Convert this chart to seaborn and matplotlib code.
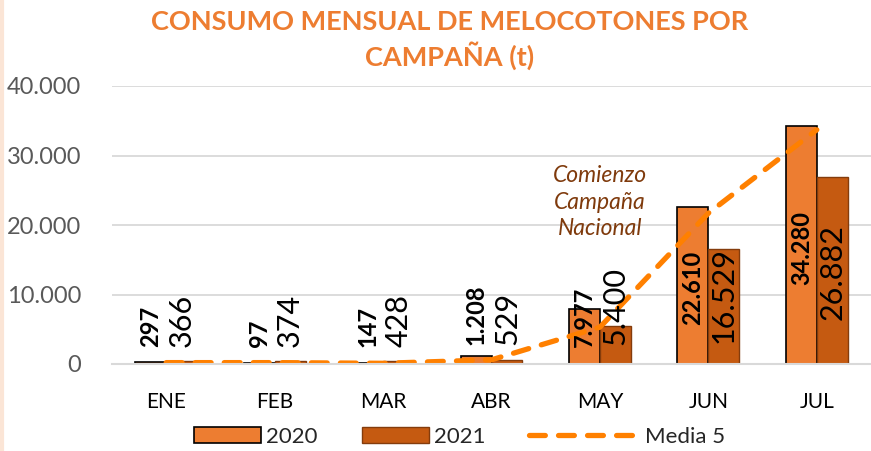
import numpy as np
import pandas as pd
import seaborn as sns
import matplotlib.pyplot as plt
from matplotlib.ticker import FuncFormatter
from matplotlib.patches import Patch
from matplotlib.lines import Line2D

# datos (t) por mes y campaña
meses = ["ENE", "FEB", "MAR", "ABR", "MAY", "JUN", "JUL"]
t_2020 = [297, 97, 147, 1208, 7977, 22610, 34280]
t_2021 = [366, 374, 428, 529, 5400, 16529, 26882]
media_5 = [200, 200, 100, 600, 5300, 21700, 33700]

# base de las etiquetas (en t), colocadas a mano como en el original
base_lab_2020 = [2450, 2450, 2450, 2730, 2450, 5600, 11370]
base_lab_2021 = [2450, 2450, 2450, 2730, 2730, 3020, 6330]

c2020, c2021, c_media = "#ED7D31", "#C55A11", "#FF8000"
borde_2021 = "#843C0C"

sns.set_theme(style="white")
plt.rcParams['font.family'] = ['Lato', 'DejaVu Sans']

df = pd.DataFrame({
    "Mes": meses * 2,
    "Año": ["2020"] * len(meses) + ["2021"] * len(meses),
    "t": t_2020 + t_2021,
})

def miles(v):
    return f"{int(v):,}".replace(",", ".")

fig = plt.figure(figsize=(8.71, 4.51), dpi=100)
ax = fig.add_axes([112 / 871, 87 / 451, (871 - 112) / 871, (364 - 86) / 451])

sns.barplot(data=df, x="Mes", y="t", hue="Año",
            palette=[c2020, c2021], width=0.57,
            saturation=1, legend=False, ax=ax)

# bordes distintos por serie
for patch in ax.containers[0]:
    patch.set_edgecolor("black")
    patch.set_linewidth(1.2)
for patch in ax.containers[1]:
    patch.set_edgecolor(borde_2021)
    patch.set_linewidth(1.0)

sns.lineplot(x=np.arange(len(meses)), y=media_5, ax=ax, color=c_media,
             linewidth=3.8, legend=False)
linea = ax.lines[-1]
linea.set_dashes([3.0, 2.5])
linea.set_dash_capstyle("round")

# etiquetas de datos verticales
for patch, v, b in zip(ax.containers[0], t_2020, base_lab_2020):
    cx = patch.get_x() + patch.get_width() / 2
    ax.text(cx, b, miles(v), rotation=90, ha="center", va="bottom",
            fontsize=17, fontweight="bold", color="black")
for patch, v, b in zip(ax.containers[1], t_2021, base_lab_2021):
    cx = patch.get_x() + patch.get_width() / 2
    ax.text(cx, b, miles(v), rotation=90, ha="center", va="bottom",
            fontsize=22, color="black")

ax.text(4, 23300, "Comienzo\nCampaña\nNacional", ha="center", va="center",
        fontsize=16.5, style="italic", color="#7F3A0C", linespacing=1.3)

ax.set_ylim(0, 40000)
ax.set_xlim(-0.5, len(meses) - 0.5)
ax.set_yticks([0, 10000, 20000, 30000, 40000])
ax.yaxis.set_major_formatter(FuncFormatter(lambda v, p: miles(v)))
ax.set_xlabel("")
ax.set_ylabel("")
ax.grid(axis="y", color="#D9D9D9", linewidth=1.3)
ax.set_axisbelow(True)
for s in ["top", "right", "left"]:
    ax.spines[s].set_visible(False)
ax.spines["bottom"].set_color("#D9D9D9")
ax.spines["bottom"].set_linewidth(1.5)
ax.tick_params(axis="y", length=0, pad=22, labelsize=17, labelcolor="#595959")
ax.tick_params(axis="x", length=0, pad=20, labelsize=15, labelcolor="black")

# leyenda: barras y media por separado (la línea lleva un símbolo más largo)
h_barras = [Patch(facecolor=c2020, edgecolor="black", linewidth=1.2),
            Patch(facecolor=c2021, edgecolor=borde_2021, linewidth=1.0)]
fig.legend(h_barras, ["2020", "2021"], loc="center",
           bbox_to_anchor=(340 / 871, 1 - 437 / 451),
           ncol=2, frameon=False, fontsize=16, handlelength=3.0,
           handleheight=0.7, handletextpad=0.25, columnspacing=2.0)
h_media = Line2D([], [], color=c_media, linewidth=3.8, dashes=[3.0, 2.5],
                 dash_capstyle="round")
fig.legend([h_media], ["Media 5"], loc="center",
           bbox_to_anchor=(627 / 871, 1 - 437 / 451),
           frameon=False, fontsize=16, handlelength=4.8, handletextpad=0.4)

fig.text(450 / 871, 1 - 10 / 451, "CONSUMO MENSUAL DE MELOCOTONES POR\nCAMPAÑA (t)",
         ha="center", va="top", color=c2020, fontsize=19.5, fontweight="bold",
         linespacing=1.3)

fig.add_artist(Line2D([0.002, 0.002], [0, 1], color="#FBE5D6", linewidth=3))

fig.savefig("out.png", dpi=100)
